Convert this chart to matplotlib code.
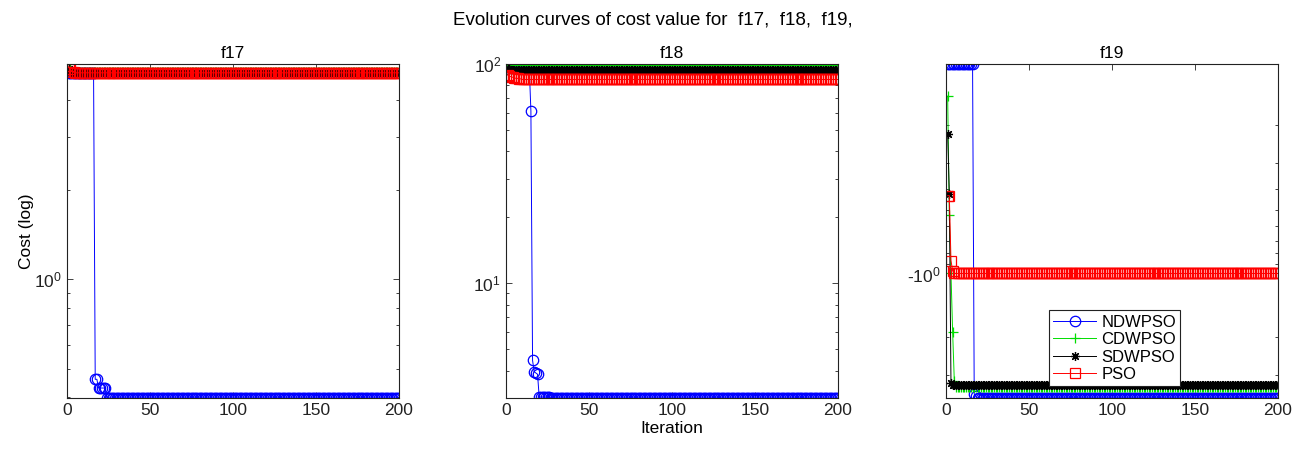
import numpy as np
import matplotlib
matplotlib.use("Agg")
import matplotlib.pyplot as plt
from matplotlib.ticker import LogLocator, NullFormatter, FuncFormatter

plt.rcParams['font.family'] = ['Liberation Sans', 'DejaVu Sans']
plt.rcParams['mathtext.fontset'] = 'custom'
plt.rcParams['mathtext.rm'] = 'Liberation Sans'
plt.rcParams['mathtext.it'] = 'Liberation Sans'

# iteration axis
iters = np.arange(1, 201)

series_names = ['NDWPSO', 'CDWPSO', 'SDWPSO', 'PSO']
func_names = ['f17', 'f18', 'f19']

# f17 cost values
f17_ndwpso = [4.95] * 16 + [0.46, 0.46, 0.43, 0.43, 0.43, 0.43, 0.43] + [0.398] * 177
f17_cdwpso = [5.35, 5.1, 5.0] + [4.97] * 197
f17_sdwpso = [5.1, 5.0] + [4.95] * 198
f17_pso = [5.2, 5.1, 5.0, 4.97] + [4.95] * 196

# f18 cost values
f18_ndwpso = [97.0] * 14 + [61.0, 4.45, 3.95, 3.9, 3.85] + [3.03] * 7 + [3.0] * 174
f18_cdwpso = [98.5] * 200
f18_sdwpso = [95.0, 94.5] + [94.0] * 198
f18_pso = [89.0, 88.0, 87.5, 87.0, 86.5, 86.0, 86.0, 85.5, 85.5, 85.0] + [85.0] * 190

# f19 cost values (negative)
f19_ndwpso = [-0.103] * 16 + [-3.70, -3.80] + [-3.86] * 182
f19_cdwpso = [-0.146, -0.53, -1.0, -1.89, -3.2] + [-3.42] * 195
f19_sdwpso = [-0.22, -0.42, -3.3] + [-3.36] * 197
f19_pso = [-0.43, -0.43, -0.87, -0.97] + [-1.0] * 196

data = {
    'f17': [f17_ndwpso, f17_cdwpso, f17_sdwpso, f17_pso],
    'f18': [f18_ndwpso, f18_cdwpso, f18_sdwpso, f18_pso],
    'f19': [f19_ndwpso, f19_cdwpso, f19_sdwpso, f19_pso],
}
ylims = {'f17': (0.398, 5.3), 'f18': (3.0, 100.0), 'f19': (3.8628, 0.103)}

colors = ['#0000ff', '#00dd00', '#000000', '#ff0000']
markers = ['o', '+', (8, 2, 0), 's']
msizes = [7.5, 7.5, 6.5, 6.5]

fig = plt.figure(figsize=(13.05, 4.49), dpi=100)
lefts = [67 / 1305, 506 / 1305, 946 / 1305]
w = 332 / 1305
b = 51 / 449
h = 334 / 449

axes = []
for i, fn in enumerate(func_names):
    ax = fig.add_axes([lefts[i], b, w, h])
    axes.append(ax)
    for k in range(4):
        y = np.array(data[fn][k])
        if fn == 'f19':
            y = -y  # plot magnitude on reversed log axis (MATLAB negative log)
        ax.plot(iters, y, color=colors[k], marker=markers[k], markersize=msizes[k],
                markerfacecolor='none', markeredgecolor=colors[k], markeredgewidth=0.9,
                linewidth=0.7, label=series_names[k])
    ax.set_yscale('log')
    ax.set_ylim(*ylims[fn])
    ax.set_xlim(0, 200)
    ax.set_xticks([0, 50, 100, 150, 200])
    ax.yaxis.set_minor_locator(LogLocator(base=10, subs=np.arange(2, 10)))
    ax.yaxis.set_minor_formatter(NullFormatter())
    if fn == 'f19':
        ax.yaxis.set_major_formatter(
            FuncFormatter(lambda v, p: r'-$10^{%d}$' % round(np.log10(v))))
    else:
        ax.yaxis.set_major_formatter(
            FuncFormatter(lambda v, p: r'$10^{%d}$' % round(np.log10(v))))
    ax.tick_params(which='both', direction='in', top=True, right=True,
                   labelsize=12.5, colors='#222222', width=0.6)
    ax.tick_params(which='major', length=4)
    ax.tick_params(which='minor', length=2.5)
    for sp in ax.spines.values():
        sp.set_linewidth(0.8)
        sp.set_color('#222222')
    ax.set_title(fn, fontsize=12.5, pad=4)

axes[0].set_ylabel('Cost (log)', fontsize=12.5, labelpad=0)
axes[1].set_xlabel('Iteration', fontsize=12.5, labelpad=2)

leg = axes[2].legend(loc='lower left', bbox_to_anchor=(0.31, 0.035), fontsize=12,
                     handlelength=2.6, handletextpad=0.3, fancybox=False,
                     edgecolor='#222222', framealpha=1, borderpad=0.25,
                     labelspacing=0.15, borderaxespad=0)
leg.get_frame().set_linewidth(0.8)

fig.suptitle('Evolution curves of cost value for  f17,  f18,  f19,', fontsize=13.5, y=0.975)

fig.savefig('out.png', dpi=100)
